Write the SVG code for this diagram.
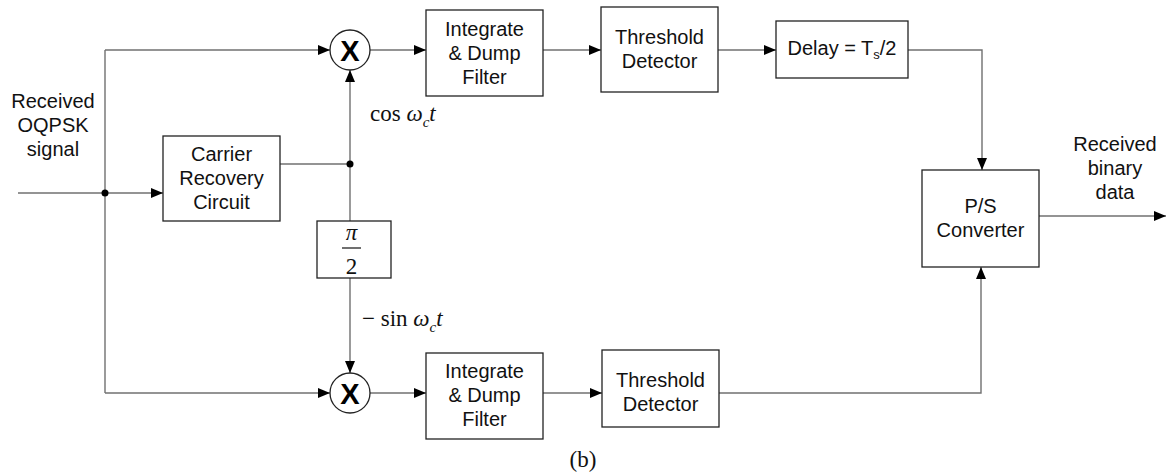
<svg xmlns="http://www.w3.org/2000/svg" width="1166" height="475" viewBox="0 0 1166 475">
<defs>
<marker id="arr" markerWidth="13" markerHeight="10" refX="12" refY="5" orient="auto" markerUnits="userSpaceOnUse">
<path d="M0,0 L12,5 L0,10 z" fill="#000"/>
</marker>
<style>
.box{fill:#fff;stroke:#222;stroke-width:1.3}
.ln{fill:none;stroke:#707070;stroke-width:1.4}
.ar{marker-end:url(#arr)}
.t{font-family:"Liberation Sans",Arial,sans-serif;font-size:20px;fill:#111;text-anchor:middle}
.m{font-family:"Liberation Serif","Times New Roman",serif;font-size:23px;fill:#111}
.i{font-style:italic}
.dot{fill:#000}
.mix{fill:#fff;stroke:#222;stroke-width:1.3}
.x{font-family:"Liberation Sans",Arial,sans-serif;font-size:29px;font-weight:bold;fill:#000;text-anchor:middle}
</style>
</defs>
<rect width="1166" height="475" fill="#fff"/>
<g id="connectors">
<path class="ln ar" d="M18,193 H163"/>
<path class="ln" d="M105,50 V393"/>
<path class="ln ar" d="M105,50 H330"/>
<path class="ln ar" d="M105,393 H330"/>
<path class="ln" d="M280,164 H350"/>
<path class="ln ar" d="M350,221 V70"/>
<path class="ln ar" d="M350,278 V373"/>
<path class="ln ar" d="M370,50 H426"/>
<path class="ln ar" d="M543,50 H601"/>
<path class="ln ar" d="M718,50 H776"/>
<path class="ln ar" d="M908,50 H982 V170"/>
<path class="ln ar" d="M370,393 H426"/>
<path class="ln ar" d="M543,393 H602"/>
<path class="ln ar" d="M719,393 H981 V267"/>
<path class="ln ar" d="M1039,216 H1166"/>
<circle class="dot" cx="105" cy="193" r="3.5"/>
<circle class="dot" cx="350" cy="164" r="3.5"/>
</g>
<g id="input-label">
<text class="t" x="53" y="108">Received</text>
<text class="t" x="53" y="132">OQPSK</text>
<text class="t" x="53" y="156">signal</text>
</g>
<g id="carrier">
<rect class="box" x="163" y="136" width="117" height="85"/>
<text class="t" x="221.5" y="161">Carrier</text>
<text class="t" x="221.5" y="185">Recovery</text>
<text class="t" x="221.5" y="209">Circuit</text>
</g>
<g id="mixer-top">
<circle class="mix" cx="350" cy="50" r="20"/>
<text class="x" x="350" y="60.5">X</text>
</g>
<g id="mixer-bottom">
<circle class="mix" cx="350" cy="393" r="20"/>
<text class="x" x="350" y="403.5">X</text>
</g>
<g id="phase-shift">
<rect class="box" x="317" y="221" width="74" height="57"/>
<text class="m i" x="351.5" y="240" text-anchor="middle" font-size="24">π</text>
<line x1="342" y1="248" x2="361" y2="248" stroke="#111" stroke-width="1.2"/>
<text class="m" x="351.5" y="274" text-anchor="middle" font-size="24">2</text>
</g>
<g id="cos-label">
<text class="m" x="370" y="121">cos <tspan class="i">ω</tspan><tspan class="i" font-size="15" dy="6">c</tspan><tspan class="i" dy="-6">t</tspan></text>
</g>
<g id="sin-label">
<text class="m" x="362" y="326">− sin <tspan class="i">ω</tspan><tspan class="i" font-size="15" dy="6">c</tspan><tspan class="i" dy="-6">t</tspan></text>
</g>
<g id="integrate-top">
<rect class="box" x="426" y="10" width="117" height="86"/>
<text class="t" x="484.5" y="36">Integrate</text>
<text class="t" x="484.5" y="60">&amp; Dump</text>
<text class="t" x="484.5" y="84">Filter</text>
</g>
<g id="threshold-top">
<rect class="box" x="601" y="7" width="117" height="85"/>
<text class="t" x="659.5" y="44">Threshold</text>
<text class="t" x="659.5" y="68">Detector</text>
</g>
<g id="delay">
<rect class="box" x="776" y="21" width="132" height="57"/>
<text class="t" x="842" y="55">Delay = T<tspan font-size="13" dy="4">s</tspan><tspan dy="-4">/2</tspan></text>
</g>
<g id="integrate-bottom">
<rect class="box" x="426" y="353" width="117" height="86"/>
<text class="t" x="484.5" y="378">Integrate</text>
<text class="t" x="484.5" y="402">&amp; Dump</text>
<text class="t" x="484.5" y="426">Filter</text>
</g>
<g id="threshold-bottom">
<rect class="box" x="602" y="350" width="117" height="77"/>
<text class="t" x="660.5" y="387">Threshold</text>
<text class="t" x="660.5" y="411">Detector</text>
</g>
<g id="ps-converter">
<rect class="box" x="922" y="170" width="117" height="97"/>
<text class="t" x="980.5" y="213">P/S</text>
<text class="t" x="980.5" y="237">Converter</text>
</g>
<g id="output-label">
<text class="t" x="1115" y="151">Received</text>
<text class="t" x="1115" y="175">binary</text>
<text class="t" x="1115" y="199">data</text>
</g>
<g id="caption">
<text class="m" x="583" y="467" text-anchor="middle" font-size="25">(b)</text>
</g>
</svg>
